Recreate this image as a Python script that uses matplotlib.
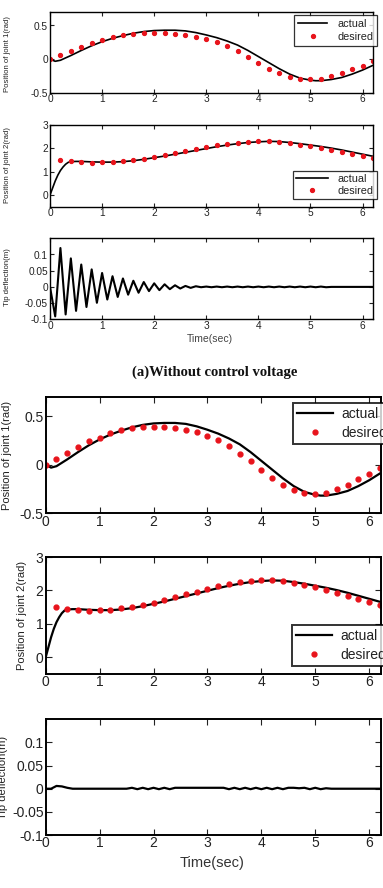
import matplotlib
matplotlib.use("Agg")
import matplotlib.pyplot as plt

plt.rcParams['axes.unicode_minus'] = False
plt.rcParams['font.family'] = ['Liberation Sans', 'DejaVu Sans']

# ---------------- data ----------------
t_des = [0.0, 0.2, 0.4, 0.6, 0.8, 1.0, 1.2, 1.4, 1.6, 1.8, 2.0, 2.2, 2.4, 2.6, 2.8, 3.0,
         3.2, 3.4, 3.6, 3.8, 4.0, 4.2, 4.4, 4.6, 4.8, 5.0, 5.2, 5.4, 5.6, 5.8, 6.0, 6.2]
q1_desired = [0.0, 0.06, 0.125, 0.18, 0.24, 0.28, 0.325, 0.355, 0.375, 0.39, 0.39, 0.39,
              0.38, 0.36, 0.335, 0.30, 0.25, 0.19, 0.115, 0.035, -0.05, -0.14, -0.21,
              -0.265, -0.295, -0.30, -0.29, -0.255, -0.21, -0.15, -0.10, -0.03]

t_des2 = [0.2, 0.4, 0.6, 0.8, 1.0, 1.2, 1.4, 1.6, 1.8, 2.0, 2.2, 2.4, 2.6, 2.8, 3.0,
          3.2, 3.4, 3.6, 3.8, 4.0, 4.2, 4.4, 4.6, 4.8, 5.0, 5.2, 5.4, 5.6, 5.8, 6.0, 6.2]
q2_desired = [1.49, 1.45, 1.40, 1.39, 1.40, 1.40, 1.46, 1.49, 1.55, 1.62, 1.71, 1.80,
              1.88, 1.96, 2.04, 2.13, 2.20, 2.25, 2.28, 2.31, 2.31, 2.28, 2.22, 2.16,
              2.09, 2.00, 1.92, 1.84, 1.75, 1.66, 1.57]

t_act1 = [0.0, 0.1, 0.2, 0.4, 0.6, 0.8, 1.0, 1.2, 1.4, 1.6, 1.8, 2.0, 2.2, 2.4, 2.6, 2.8,
          3.0, 3.2, 3.4, 3.6, 3.8, 4.0, 4.2, 4.4, 4.6, 4.8, 5.0, 5.1, 5.2, 5.4, 5.6, 5.8,
          6.0, 6.2]
q1_actual = [0.0, -0.03, -0.015, 0.055, 0.13, 0.20, 0.26, 0.31, 0.35, 0.385, 0.41, 0.425,
             0.43, 0.43, 0.42, 0.395, 0.36, 0.32, 0.27, 0.21, 0.13, 0.04, -0.05, -0.14,
             -0.22, -0.28, -0.31, -0.318, -0.318, -0.30, -0.27, -0.22, -0.16, -0.09]

t_act2 = [0.0, 0.05, 0.1, 0.15, 0.2, 0.25, 0.3, 0.35, 0.4, 0.5, 0.6, 0.8, 1.0, 1.2, 1.4,
          1.6, 1.8, 2.0, 2.2, 2.4, 2.6, 2.8, 3.0, 3.2, 3.4, 3.6, 3.8, 4.0, 4.2, 4.4, 4.6,
          4.8, 5.0, 5.2, 5.4, 5.6, 5.8, 6.0, 6.2]
q2_actual = [0.0, 0.30, 0.60, 0.85, 1.05, 1.20, 1.32, 1.40, 1.43, 1.44, 1.44, 1.42, 1.41,
             1.41, 1.43, 1.47, 1.53, 1.60, 1.67, 1.75, 1.83, 1.91, 1.99, 2.07, 2.14, 2.20,
             2.25, 2.28, 2.30, 2.29, 2.25, 2.20, 2.14, 2.08, 2.01, 1.93, 1.84, 1.75, 1.66]

t_tip = [0.0, 0.1, 0.2, 0.3, 0.4, 0.5, 0.6, 0.7, 0.8, 0.9, 1.0, 1.1, 1.2, 1.3, 1.4, 1.5,
         1.6, 1.7, 1.8, 1.9, 2.0, 2.1, 2.2, 2.3, 2.4, 2.5, 2.6, 2.7, 2.8, 2.9, 3.0, 3.1,
         3.2, 3.3, 3.4, 3.5, 3.6, 3.7, 3.8, 3.9, 4.0, 4.1, 4.2, 4.3, 4.4, 4.5, 4.6, 4.7,
         4.8, 4.9, 5.0, 5.1, 5.2, 5.3, 5.4, 5.5, 5.6, 5.7, 5.8, 5.9, 6.0, 6.1, 6.2]
tip_no_control = [0.0, -0.091, 0.12, -0.085, 0.088, -0.074, 0.069, -0.062, 0.054, -0.049,
                  0.043, -0.039, 0.033, -0.031, 0.026, -0.024, 0.019, -0.018, 0.015, -0.013,
                  0.011, -0.010, 0.008, -0.007, 0.005, -0.005, 0.003, -0.003, 0.002, -0.001,
                  0.001, -0.001, 0.001, -0.001, 0.001, -0.001, 0.001, -0.001, 0.001, -0.001,
                  0.001, -0.001, 0.001, -0.001, 0.001, -0.001, 0.001, -0.001, 0.001, -0.001,
                  0.001, -0.001, 0.001, -0.001, 0.0, 0.0, 0.0, 0.0, 0.0, 0.0, 0.0, 0.0, 0.0]
tip_control = [0.0, 0.0, 0.006, 0.005, 0.002, 0.0, 0.0, 0.0, 0.0, 0.0, 0.0, 0.0, 0.0, 0.0,
               0.0, 0.0, 0.002, -0.001, 0.002, -0.001, 0.002, -0.001, 0.002, -0.001, 0.002,
               0.002, 0.002, 0.002, 0.002, 0.002, 0.002, 0.002, 0.002, 0.002, -0.001, 0.002,
               -0.001, 0.002, -0.001, 0.002, -0.001, 0.002, -0.001, 0.002, -0.001, 0.002,
               0.002, 0.001, 0.002, -0.001, 0.002, -0.001, 0.001, 0.0, 0.0, 0.0, 0.0, 0.0,
               0.0, 0.0, 0.0, 0.0, 0.0]

xticks = [0, 1, 2, 3, 4, 5, 6]
yt1 = [-0.5, 0, 0.5]; yl1 = ['-0.5', '0', '0.5']
yt2 = [0, 1, 2, 3]; yl2 = ['0', '1', '2', '3']
yt3 = [-0.1, -0.05, 0, 0.05, 0.1]; yl3 = ['-0.1', '-0.05', '0', '0.05', '0.1']

# ---------------- figure ----------------
W, H = 383, 888
fig = plt.figure(figsize=(W / 100, H / 100), dpi=100)

def add_ax(l, t, r, b):
    return fig.add_axes([l / W, 1 - b / H, (r - l) / W, (b - t) / H])

TXT = '#222222'
RED = '#e8141c'

def style(ax, fs, lw, ticklen, ylim, yt, yl, xlim):
    ax.set_xlim(*xlim)
    ax.set_ylim(*ylim)
    ax.set_xticks(xticks)
    ax.set_xticklabels([str(v) for v in xticks])
    ax.set_yticks(yt)
    ax.set_yticklabels(yl)
    ax.tick_params(direction='in', top=True, right=True, length=ticklen, width=0.8,
                   labelsize=fs, colors=TXT, pad=1.5)
    ax.tick_params(axis='x', pad=1)
    for s in ax.spines.values():
        s.set_linewidth(lw)
        s.set_color('black')

def legend(ax, loc, anchor, fs, lw, hl, htp, bp, ls):
    lg = ax.legend(loc=loc, bbox_to_anchor=anchor, borderaxespad=0, fontsize=fs,
                   frameon=True, fancybox=False, handlelength=hl, handletextpad=htp,
                   borderpad=bp, labelspacing=ls)
    lg.get_frame().set_edgecolor('black')
    lg.get_frame().set_linewidth(lw)
    for txt in lg.get_texts():
        txt.set_color(TXT)
    return lg

def ylab(x, yc, s, fs):
    fig.text(x / W, 1 - yc / H, s, rotation=90, ha='center', va='center',
             fontsize=fs, color=TXT)

# ---- top figure (a) ----
xl_top = (0, 6.2)
ax1 = add_ax(50, 12, 373, 93)
ax1.plot(t_act1, q1_actual, color='black', lw=1.2, label='actual')
ax1.plot(t_des, q1_desired, ls='none', marker='o', ms=2.8, color=RED, mec=RED,
         label='desired')
style(ax1, 7.3, 1.0, 3, (-0.5, 0.7), yt1, yl1, xl_top)
legend(ax1, 'upper right', (1.012, 0.965), 7.8, 0.9, 2.7, 0.9, 0.35, 0.3)

ax2 = add_ax(50, 125, 373, 206.7)
ax2.plot(t_act2, q2_actual, color='black', lw=1.2, label='actual')
ax2.plot(t_des2, q2_desired, ls='none', marker='o', ms=2.8, color=RED, mec=RED,
         label='desired')
style(ax2, 7.3, 1.0, 3, (-0.5, 3), yt2, yl2, xl_top)
legend(ax2, 'lower right', (1.012, 0.09), 7.8, 0.9, 2.9, 0.9, 0.3, 0.2)

ax3 = add_ax(50, 238.3, 373, 319.3)
ax3.plot(t_tip, tip_no_control, color='black', lw=1.5)
style(ax3, 7.3, 1.0, 3, (-0.1, 0.15), yt3, yl3, xl_top)

ylab(8, 54, 'Position of joint 1(rad)', 5.6)
ylab(8, 165, 'Position of joint 2(rad)', 5.6)
ylab(8, 277, 'Tip deflection(m)', 5.6)
fig.text(210 / W, 1 - 339 / H, 'Time(sec)', ha='center', va='center', fontsize=7.5,
         color='#444444')
fig.text(215 / W, 1 - 372 / H, '(a)Without control voltage', ha='center', va='center',
         fontsize=10.5, fontweight='bold', family=['Liberation Serif', 'DejaVu Serif'],
         color='#111111')

# ---- bottom figure ----
xl_bot = (0, 6.22)
ax4 = add_ax(45.7, 396.7, 381, 513.3)
ax4.plot(t_act1, q1_actual, color='black', lw=1.6, label='actual')
ax4.plot(t_des, q1_desired, ls='none', marker='o', ms=3.5, color=RED, mec=RED,
         label='desired')
style(ax4, 10, 1.4, 4.5, (-0.5, 0.7), yt1, yl1, xl_bot)
legend(ax4, 'upper left', (0.737, 0.949), 10, 1.4, 2.6, 0.6, 0.3, 0.35)

ax5 = add_ax(45.7, 557, 381, 674)
ax5.plot(t_act2, q2_actual, color='black', lw=1.6, label='actual')
ax5.plot(t_des2, q2_desired, ls='none', marker='o', ms=3.5, color=RED, mec=RED,
         label='desired')
style(ax5, 10, 1.4, 4.5, (-0.5, 3), yt2, yl2, xl_bot)
legend(ax5, 'upper left', (0.734, 0.419), 10, 1.4, 2.6, 0.6, 0.3, 0.35)

ax6 = add_ax(45.7, 719.3, 381, 835)
ax6.plot(t_tip, tip_control, color='black', lw=1.6)
style(ax6, 10, 1.4, 4.5, (-0.1, 0.15), yt3, yl3, xl_bot)

ylab(7.5, 455, 'Position of joint 1(rad)', 8)
ylab(22, 615, 'Position of joint 2(rad)', 8)
ylab(3, 777, 'Tip deflection(m)', 8)
fig.text(212 / W, 1 - 863 / H, 'Time(sec)', ha='center', va='center', fontsize=10.5,
         color='#333333')

fig.savefig('out.png', dpi=100)
